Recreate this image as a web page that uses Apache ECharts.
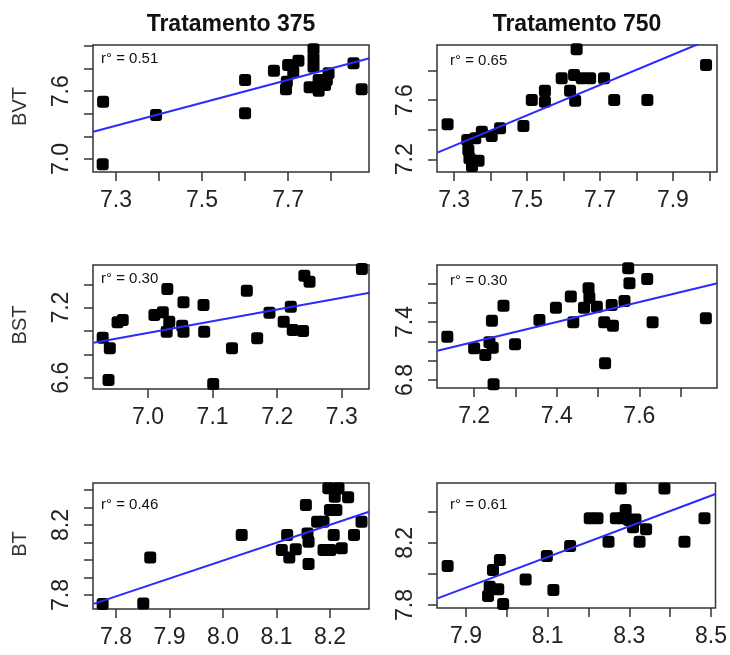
<!DOCTYPE html>
<html>
<head>
<meta charset="utf-8">
<script src="https://cdn.jsdelivr.net/npm/echarts@6/dist/echarts.min.js"></script>
<style>
    html, body { margin: 0; padding: 0; background: #fff; }
    #chart { width: 730px; height: 655px; }
</style>
</head>
<body>
<div id="chart"></div>
<script>
var treatments = ['Tratamento 375', 'Tratamento 750'];
var variables = ['BVT', 'BST', 'BT'];
var rValues = ['0.51', '0.65', '0.30', '0.30', '0.46', '0.61'];

// BVT - Tratamento 375
var bvt375X = [7.270, 7.269, 7.393, 7.600, 7.600, 7.667, 7.700, 7.724, 7.712, 7.695, 7.697, 7.759, 7.759, 7.759, 7.750, 7.771, 7.771, 7.790, 7.794, 7.786, 7.852, 7.871];
var bvt375Y = [7.507, 6.953, 7.389, 7.699, 7.404, 7.781, 7.832, 7.870, 7.773, 7.617, 7.684, 7.971, 7.891, 7.817, 7.635, 7.605, 7.699, 7.699, 7.758, 7.655, 7.847, 7.617];
// BVT - Tratamento 750
var bvt750X = [7.282, 7.336, 7.339, 7.342, 7.349, 7.367, 7.358, 7.376, 7.403, 7.426, 7.490, 7.513, 7.549, 7.549, 7.595, 7.618, 7.629, 7.632, 7.636, 7.650, 7.673, 7.711, 7.739, 7.830, 7.991];
var bvt750Y = [7.437, 7.331, 7.263, 7.207, 7.155, 7.191, 7.342, 7.387, 7.358, 7.410, 7.425, 7.601, 7.664, 7.590, 7.748, 7.664, 7.771, 7.597, 7.945, 7.748, 7.748, 7.748, 7.601, 7.601, 7.838];
// BST - Tratamento 375
var bst375X = [6.930, 6.941, 6.939, 6.953, 6.961, 7.010, 7.023, 7.030, 7.033, 7.029, 7.055, 7.053, 7.055, 7.086, 7.087, 7.101, 7.130, 7.153, 7.169, 7.188, 7.210, 7.221, 7.224, 7.240, 7.242, 7.250, 7.331];
var bst375Y = [6.943, 6.852, 6.580, 7.074, 7.094, 7.137, 7.160, 7.360, 7.080, 6.994, 7.246, 7.045, 6.994, 7.223, 6.994, 6.546, 6.852, 7.345, 6.937, 7.157, 7.080, 7.208, 7.009, 6.999, 7.474, 7.422, 7.531];
// BST - Tratamento 750
var bst750X = [7.135, 7.200, 7.227, 7.237, 7.245, 7.243, 7.247, 7.271, 7.299, 7.358, 7.398, 7.434, 7.440, 7.466, 7.477, 7.479, 7.497, 7.515, 7.517, 7.533, 7.536, 7.564, 7.573, 7.576, 7.619, 7.632, 7.761];
var bst750Y = [7.248, 7.128, 7.059, 7.190, 7.134, 7.413, 6.756, 7.568, 7.169, 7.420, 7.548, 7.662, 7.397, 7.548, 7.748, 7.651, 7.558, 7.397, 6.973, 7.576, 7.362, 7.617, 7.955, 7.800, 7.844, 7.397, 7.438];
// BT - Tratamento 375
var bt375X = [7.775, 7.851, 7.864, 8.035, 8.110, 8.120, 8.124, 8.136, 8.155, 8.158, 8.160, 8.160, 8.176, 8.188, 8.188, 8.197, 8.200, 8.201, 8.209, 8.212, 8.216, 8.207, 8.222, 8.234, 8.245, 8.259];
var bt375Y = [7.749, 7.752, 8.015, 8.143, 8.057, 8.143, 8.015, 8.061, 8.314, 8.152, 8.105, 7.977, 8.219, 8.219, 8.057, 8.410, 8.286, 8.057, 8.362, 8.286, 8.410, 8.143, 8.067, 8.358, 8.143, 8.219];
// BT - Tratamento 750
var bt750X = [7.855, 7.954, 7.958, 7.966, 7.979, 7.983, 7.991, 8.046, 8.098, 8.114, 8.155, 8.203, 8.222, 8.249, 8.267, 8.279, 8.291, 8.283, 8.299, 8.309, 8.315, 8.325, 8.341, 8.386, 8.435, 8.484];
var bt750Y = [8.051, 7.858, 7.918, 8.025, 7.901, 8.089, 7.806, 7.965, 8.115, 7.896, 8.179, 8.358, 8.358, 8.207, 8.358, 8.550, 8.411, 8.358, 8.347, 8.300, 8.351, 8.207, 8.287, 8.550, 8.207, 8.358];

// regression lines [x0, y0, x1, y1]
var fitLines = [
    [7.247, 7.242, 7.889, 7.891],
    [7.254, 7.245, 7.970, 7.981],
    [6.916, 6.900, 7.343, 7.328],
    [7.111, 7.103, 7.789, 7.800],
    [7.758, 7.749, 8.273, 8.276],
    [7.830, 7.843, 8.511, 8.514]
];

// axis ranges [min, max]
var xRanges = [[7.2465, 7.888], [7.253, 8.021], [6.915, 7.342], [7.110, 7.788], [7.757, 8.273], [7.829, 8.511]];
var yRanges = [[6.885, 8.009], [7.114, 7.974], [6.503, 7.565], [6.717, 7.989], [7.72, 8.44], [7.781, 8.585]];

// ticks and labelled ticks
var xTicks = [
    [7.3, 7.4, 7.5, 7.6, 7.7, 7.8],
    [7.3, 7.4, 7.5, 7.6, 7.7, 7.8, 7.9, 8.0],
    [7.0, 7.1, 7.2, 7.3],
    [7.2, 7.3, 7.4, 7.5, 7.6, 7.7],
    [7.8, 7.9, 8.0, 8.1, 8.2],
    [7.9, 8.0, 8.1, 8.2, 8.3, 8.4, 8.5]
];
var xLabels = [
    [7.3, 7.5, 7.7],
    [7.3, 7.5, 7.7, 7.9],
    [7.0, 7.1, 7.2, 7.3],
    [7.2, 7.4, 7.6],
    [7.8, 7.9, 8.0, 8.1, 8.2],
    [7.9, 8.1, 8.3, 8.5]
];
var yTicks = [
    [7.0, 7.2, 7.4, 7.6, 7.8, 8.0],
    [7.2, 7.4, 7.6, 7.8],
    [6.6, 6.8, 7.0, 7.2, 7.4],
    [6.8, 7.0, 7.2, 7.4, 7.6, 7.8],
    [7.8, 7.9, 8.0, 8.1, 8.2, 8.3, 8.4],
    [7.8, 8.0, 8.2, 8.4]
];
var yLabels = [
    [7.0, 7.6],
    [7.2, 7.6],
    [6.6, 7.2],
    [6.8, 7.4],
    [7.8, 8.2],
    [7.8, 8.2]
];

var panelX = [bvt375X, bvt750X, bst375X, bst750X, bt375X, bt750X];
var panelY = [bvt375Y, bvt750Y, bst375Y, bst750Y, bt375Y, bt750Y];

var fontName = '"Liberation Sans", Arial, sans-serif';

var grids = [
    {left: 93, top: 45, width: 276, height: 127},
    {left: 437, top: 45, width: 280, height: 127},
    {left: 93, top: 265, width: 276, height: 124},
    {left: 437, top: 265, width: 280, height: 123},
    {left: 93, top: 483, width: 276, height: 126},
    {left: 437, top: 483, width: 280, height: 125}
];

var rPos = [[101, 59], [450, 61], [101, 279], [450, 281], [101, 505], [450, 505]];

var xAxes = [], yAxes = [], series = [], graphics = [];

grids.forEach(function (g, i) {
    g.show = true;
    g.borderColor = '#333';
    g.borderWidth = 1.5;
    g.backgroundColor = 'transparent';

    xAxes.push({
        type: 'value', gridIndex: i, min: xRanges[i][0], max: xRanges[i][1],
        axisLine: {show: false},
        splitLine: {show: false},
        axisTick: {show: true, length: 9, customValues: xTicks[i], lineStyle: {color: '#333', width: 1.5}},
        axisLabel: {
            customValues: xLabels[i], margin: 17, fontSize: 23, fontFamily: fontName, color: '#222',
            formatter: function (v) { return Number(v).toFixed(1); }
        }
    });
    yAxes.push({
        type: 'value', gridIndex: i, min: yRanges[i][0], max: yRanges[i][1],
        axisLine: {show: false},
        splitLine: {show: false},
        axisTick: {show: true, length: 9, customValues: yTicks[i], lineStyle: {color: '#333', width: 1.5}},
        axisLabel: {
            customValues: yLabels[i], rotate: 90, margin: 20, fontSize: 23, fontFamily: fontName, color: '#222',
            formatter: function (v) { return Number(v).toFixed(1); }
        }
    });

    var pts = panelX[i].map(function (x, k) { return [x, panelY[i][k]]; });
    series.push({
        type: 'scatter', xAxisIndex: i, yAxisIndex: i, data: pts,
        symbol: 'roundRect', symbolSize: 12,
        itemStyle: {color: '#000', opacity: 1}, z: 2
    });
    var f = fitLines[i];
    series.push({
        type: 'line', xAxisIndex: i, yAxisIndex: i,
        data: [[f[0], f[1]], [f[2], f[3]]],
        symbol: 'none', lineStyle: {color: '#2b2bff', width: 2}, z: 3
    });

    graphics.push({
        type: 'text', left: rPos[i][0], top: rPos[i][1] - 8,
        style: {text: 'r° = ' + rValues[i], font: '15px ' + fontName, fill: '#111'}
    });
});

// column titles
treatments.forEach(function (t, c) {
    var g = grids[c];
    graphics.push({
        type: 'text', x: g.left + g.width / 2, y: 25,
        style: {text: t, font: 'bold 23px ' + fontName, fill: '#111', textAlign: 'center', textVerticalAlign: 'middle'}
    });
});

// row labels
variables.forEach(function (v, r) {
    var g = grids[r * 2];
    graphics.push({
        type: 'text', x: 20, y: g.top + g.height / 2 - 2, rotation: Math.PI / 2,
        style: {text: v, font: '20px ' + fontName, fill: '#333', textAlign: 'center', textVerticalAlign: 'middle'}
    });
});

var myChart = echarts.init(document.getElementById('chart'));
myChart.setOption({
    animation: false,
    backgroundColor: '#fff',
    grid: grids,
    xAxis: xAxes,
    yAxis: yAxes,
    series: series,
    graphic: graphics
});
</script>
</body>
</html>
